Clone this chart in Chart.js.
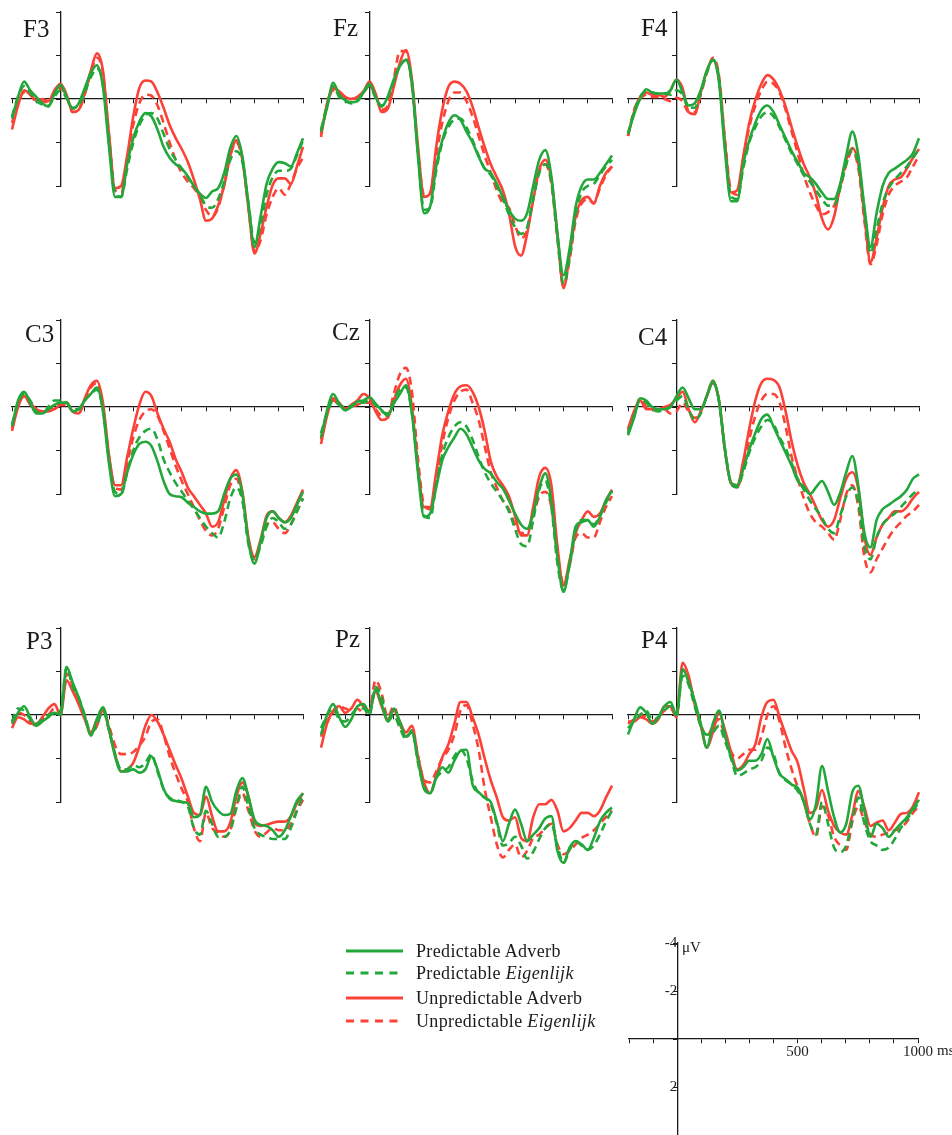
<!DOCTYPE html>
<html>
<head>
<meta charset="utf-8">
<script src="https://cdn.jsdelivr.net/npm/chart.js@4.4.1/dist/chart.umd.min.js"></script>
<style>
  body { margin: 0; width: 952px; height: 1135px; overflow: hidden; background: #fff;
         position: relative; font-family: "Liberation Serif", serif; color: #1a1a1a; }
  canvas { position: absolute; }
  .name { position: absolute; font-size: 25px; line-height: 25px; }
  .leg { position: absolute; font-size: 18px; line-height: 20px; letter-spacing: 0.35px; white-space: nowrap; }
  .leg svg { position: absolute; left: -71px; top: 7px; }
  .unit { position: absolute; font-size: 15px; line-height: 15px; white-space: nowrap; }
</style>
</head>
<body>
<script>
// time points (ms), shared by every panel
const times = [-200, -175, -150, -125, -100, -75, -50,
  -25, 0, 25, 50, 75, 100, 125,
  150, 175, 200, 225, 250, 275, 300,
  325, 350, 375, 400, 425, 450, 475,
  500, 525, 550, 575, 600, 625, 650,
  675, 700, 725, 750, 775, 800, 825,
  850, 875, 900, 925, 950, 975, 1000];

const seriesNames = ["Predictable Adverb", "Predictable Eigenlijk", "Unpredictable Adverb", "Unpredictable Eigenlijk"];

// microvolts, positive plotted downwards
const F3_PA = [0.9, -0.1, -0.8, -0.4, -0.1, 0.2, 0.35, -0.25, -0.65, -0.1, 0.45, 0.2, -0.5, -1.2, -1.55, -0.55, 2.2, 4.5, 4.5, 3.0, 1.8, 1.05, 0.65, 0.8, 1.4, 2.2, 2.7, 3.0, 3.2, 3.55, 4.0, 4.35, 4.55, 4.25, 4.1, 3.4, 2.25, 1.7, 2.65, 4.8, 6.8, 5.4, 3.9, 3.2, 2.9, 2.95, 3.1, 2.5, 1.8];
const F3_PE = [0.8, -0.1, -0.6, -0.3, 0.1, 0.25, 0.3, -0.1, -0.4, -0.05, 0.4, 0.3, -0.3, -1.0, -1.4, -0.7, 1.9, 4.3, 4.5, 3.2, 2.0, 1.2, 0.75, 0.65, 0.9, 1.6, 2.3, 2.8, 3.2, 3.6, 4.0, 4.4, 4.9, 5.0, 4.6, 3.8, 2.8, 2.4, 2.9, 4.8, 6.6, 5.8, 4.4, 3.6, 3.3, 3.3, 3.2, 2.6, 1.9];
const F3_UA = [1.4, 0.3, -0.4, -0.2, 0.05, 0.0, 0.1, -0.4, -0.7, -0.2, 0.6, 0.5, -0.3, -1.3, -2.1, -1.3, 1.6, 4.1, 4.0, 2.6, 0.8, -0.5, -0.85, -0.8, -0.3, 0.4, 1.2, 1.8, 2.3, 2.9, 3.7, 4.6, 5.6, 5.5, 4.9, 4.0, 2.6, 1.9, 2.7, 5.0, 7.1, 6.2, 4.95, 3.95, 3.65, 3.65, 3.9, 3.1, 2.2];
const F3_UE = [1.1, 0.2, -0.3, -0.2, 0.1, 0.1, 0.15, -0.3, -0.5, -0.1, 0.6, 0.5, -0.2, -1.2, -1.9, -1.2, 1.7, 4.2, 4.3, 2.8, 1.2, 0.2, -0.2, -0.15, 0.3, 1.1, 2.0, 2.8, 3.4, 3.8, 4.1, 4.5, 5.1, 5.4, 5.0, 3.9, 2.6, 2.0, 2.8, 5.0, 7.0, 6.5, 5.3, 4.5, 4.1, 4.4, 3.9, 3.2, 2.7];

const Fz_PA = [1.5, 0.4, -0.75, -0.2, 0.05, 0.15, 0.1, -0.3, -0.7, -0.1, 0.35, -0.1, -0.9, -1.5, -1.8, -0.7, 2.65, 5.25, 4.95, 3.1, 1.9, 1.1, 0.75, 0.95, 1.5, 2.0, 2.65, 3.2, 3.4, 3.9, 4.5, 5.1, 5.5, 5.6, 5.25, 4.0, 2.8, 2.35, 3.55, 6.2, 8.1, 6.9, 4.95, 4.0, 3.7, 3.7, 3.4, 3.0, 2.6];
const Fz_PE = [1.4, 0.3, -0.6, -0.1, 0.1, 0.2, 0.05, -0.3, -0.6, -0.05, 0.3, -0.05, -0.8, -1.5, -1.8, -0.8, 2.5, 5.1, 5.0, 3.3, 2.0, 1.3, 0.95, 0.9, 1.3, 1.9, 2.6, 3.2, 3.5, 4.0, 4.6, 5.3, 5.9, 6.2, 5.9, 4.6, 3.4, 3.0, 3.8, 6.4, 8.5, 7.3, 5.3, 4.3, 4.0, 3.9, 3.5, 3.1, 2.8];
const Fz_UA = [1.75, 0.2, -0.5, -0.35, -0.1, 0.0, -0.1, -0.35, -0.8, -0.25, 0.6, 0.45, -0.55, -1.65, -2.25, -0.9, 2.2, 4.5, 4.35, 2.2, 0.5, -0.55, -0.8, -0.7, -0.35, 0.35, 1.3, 2.2, 3.0, 3.6, 4.2, 5.25, 6.75, 7.2, 6.2, 4.65, 3.25, 2.8, 3.7, 6.2, 8.7, 7.2, 5.4, 4.65, 4.5, 4.8, 4.0, 3.4, 3.1];
const Fz_UE = [1.6, 0.3, -0.4, -0.3, -0.05, 0.0, -0.05, -0.3, -0.6, -0.2, 0.5, 0.3, -0.9, -2.2, -2.2, -0.6, 2.4, 4.4, 4.3, 2.6, 1.1, 0.1, -0.3, -0.3, 0.1, 0.8, 1.7, 2.6, 3.4, 4.2, 4.8, 5.0, 5.8, 6.4, 6.0, 4.6, 3.3, 3.0, 3.9, 6.4, 8.6, 7.4, 5.6, 4.8, 4.6, 4.8, 4.1, 3.5, 3.1];

const F4_PA = [1.6, 0.7, 0.0, -0.45, -0.3, -0.25, -0.25, -0.4, -0.9, -0.3, 0.3, 0.2, -0.4, -1.3, -1.8, -0.8, 2.4, 4.7, 4.7, 3.0, 1.9, 1.1, 0.5, 0.3, 0.6, 1.2, 1.8, 2.4, 2.9, 3.4, 3.6, 3.9, 4.3, 4.6, 4.6, 3.9, 2.6, 1.5, 2.6, 5.0, 6.8, 5.25, 4.0, 3.4, 3.2, 3.0, 2.8, 2.5, 1.8];
const F4_PE = [1.6, 0.6, -0.1, -0.35, -0.3, -0.25, -0.25, -0.2, -0.4, -0.2, 0.4, 0.4, -0.3, -1.2, -1.8, -1.0, 2.2, 4.5, 4.6, 3.2, 2.0, 1.3, 0.8, 0.6, 0.8, 1.3, 1.9, 2.5, 3.0, 3.5, 3.8, 4.2, 4.6, 4.9, 4.9, 4.1, 3.0, 2.3, 3.0, 5.1, 7.1, 6.0, 4.8, 4.1, 3.7, 3.4, 3.1, 2.7, 2.3];
const F4_UA = [1.7, 0.6, -0.1, -0.3, -0.2, -0.2, -0.1, -0.4, -0.9, -0.5, 0.6, 0.7, -0.3, -1.3, -1.8, -0.9, 2.0, 4.3, 4.2, 2.65, 1.1, 0.05, -0.7, -1.1, -0.9, -0.4, 0.35, 1.3, 2.2, 3.0, 3.6, 4.4, 5.5, 6.0, 5.4, 4.0, 2.8, 2.25, 3.0, 5.4, 7.5, 6.4, 5.0, 4.0, 3.7, 3.6, 3.2, 2.7, 2.3];
const F4_UE = [1.7, 0.5, 0.0, -0.2, -0.1, -0.1, 0.0, 0.1, -0.05, 0.1, 0.6, 0.6, -0.2, -1.2, -1.9, -1.1, 1.9, 4.2, 4.4, 2.8, 1.3, 0.3, -0.4, -0.8, -0.7, -0.3, 0.5, 1.5, 2.5, 3.5, 4.3, 4.9, 5.3, 5.2, 4.9, 4.1, 3.0, 2.4, 3.2, 5.6, 7.6, 6.7, 5.3, 4.4, 4.0, 3.8, 3.6, 3.1, 2.6];

const C3_PA = [0.9, -0.3, -0.7, -0.2, 0.3, 0.3, 0.1, -0.1, -0.2, -0.2, 0.2, 0.1, -0.3, -0.6, -0.9, 0.2, 2.6, 4.1, 4.0, 3.0, 2.2, 1.7, 1.6, 1.8, 2.5, 3.4, 4.0, 4.1, 4.15, 4.4, 4.6, 4.8, 4.9, 4.9, 4.8, 4.0, 3.3, 3.1, 4.0, 6.2, 7.2, 6.2, 5.1, 4.8, 5.1, 5.3, 5.1, 4.5, 3.9];
const C3_PE = [0.8, -0.2, -0.6, -0.3, 0.2, 0.3, 0.0, -0.3, -0.3, -0.2, 0.1, 0.1, -0.3, -0.6, -0.8, 0.1, 2.4, 3.9, 4.0, 3.0, 2.0, 1.4, 1.1, 1.0, 1.5, 2.4, 3.0, 3.5, 3.9, 4.3, 4.7, 5.1, 5.5, 5.8, 6.0, 5.3, 4.2, 3.7, 4.3, 6.3, 7.0, 6.4, 5.5, 5.1, 5.3, 5.6, 5.4, 4.8, 4.2];
const C3_UA = [1.1, 0.0, -0.5, -0.2, 0.1, 0.2, 0.2, 0.1, -0.1, -0.2, 0.2, 0.3, -0.4, -1.0, -1.2, -0.2, 2.2, 3.6, 3.6, 2.3, 1.0, -0.1, -0.7, -0.5, 0.3, 1.0, 1.6, 2.4, 3.0, 3.7, 4.1, 4.5, 4.9, 5.5, 5.3, 4.3, 3.3, 2.9, 3.9, 6.0, 6.9, 6.1, 5.0, 4.8, 5.1, 5.3, 5.0, 4.4, 3.8];
const C3_UE = [1.0, -0.1, -0.5, -0.1, 0.2, 0.2, 0.1, 0.0, -0.1, -0.1, 0.2, 0.3, -0.3, -0.9, -1.1, 0.0, 2.3, 3.7, 3.8, 2.6, 1.4, 0.6, 0.2, 0.1, 0.4, 1.1, 1.9, 2.7, 3.4, 4.0, 4.6, 5.2, 5.7, 5.9, 5.6, 4.6, 3.6, 3.3, 4.2, 6.1, 7.0, 6.3, 5.4, 5.3, 5.6, 5.8, 5.4, 4.8, 4.2];

const Cz_PA = [1.4, 0.15, -0.6, -0.15, 0.15, 0.0, -0.25, -0.3, -0.45, -0.15, 0.15, 0.4, -0.15, -0.6, -1.0, 0.3, 3.05, 5.05, 4.9, 3.7, 2.45, 1.85, 1.4, 1.0, 1.25, 1.85, 2.45, 2.85, 3.05, 3.45, 3.75, 4.3, 4.9, 5.4, 5.6, 4.9, 3.7, 3.05, 4.3, 6.9, 8.5, 7.2, 5.5, 5.3, 5.2, 5.5, 5.05, 4.3, 3.85];
const Cz_PE = [1.2, 0.3, -0.3, -0.1, 0.0, -0.05, -0.2, -0.2, -0.3, -0.1, 0.2, 0.3, -0.3, -0.8, -0.9, 0.3, 2.9, 5.0, 5.1, 3.6, 2.2, 1.4, 0.9, 0.7, 0.9, 1.5, 2.3, 3.0, 3.5, 3.9, 4.3, 4.8, 5.6, 6.3, 6.4, 5.2, 3.8, 3.4, 4.6, 7.2, 8.4, 7.3, 5.7, 5.2, 5.2, 5.4, 5.0, 4.4, 3.9];
const Cz_UA = [1.7, 0.4, -0.4, -0.2, 0.1, -0.1, -0.3, -0.6, -0.4, 0.2, 0.6, 0.5, -0.3, -1.0, -1.3, 0.0, 2.8, 4.6, 4.6, 3.0, 1.3, 0.2, -0.6, -0.95, -1.0, -0.7, 0.0, 1.1, 2.5, 3.2, 3.6, 4.1, 5.0, 5.9, 5.9, 4.6, 3.2, 2.8, 3.6, 6.4, 8.2, 7.05, 5.8, 5.2, 4.8, 5.05, 4.9, 4.3, 3.8];
const Cz_UE = [1.5, 0.3, -0.3, -0.1, 0.1, 0.0, -0.1, -0.2, -0.2, 0.1, 0.4, 0.4, -0.6, -1.5, -1.8, -0.7, 2.4, 4.5, 4.7, 3.3, 1.7, 0.5, -0.3, -0.7, -0.8, -0.2, 0.6, 1.8, 3.0, 3.7, 4.3, 4.7, 5.4, 5.8, 5.7, 5.0, 4.1, 3.9, 4.6, 6.8, 8.1, 7.3, 6.0, 5.8, 6.0, 6.0, 5.3, 4.6, 4.1];

const C4_PA = [1.3, 0.5, -0.4, -0.3, 0.0, 0.1, 0.1, 0.0, -0.5, -0.9, -0.4, 0.1, 0.1, -0.5, -1.2, -0.3, 2.0, 3.5, 3.6, 2.85, 1.95, 1.2, 0.55, 0.35, 0.9, 1.5, 2.1, 2.7, 3.4, 3.65, 4.0, 3.7, 3.4, 3.9, 4.5, 3.95, 3.0, 2.25, 3.65, 5.8, 6.45, 5.2, 4.7, 4.5, 4.3, 4.1, 3.8, 3.3, 3.1];
const C4_PE = [1.2, 0.4, -0.3, -0.2, 0.1, 0.2, 0.1, 0.0, -0.3, -0.5, 0.1, 0.6, 0.3, -0.5, -1.1, -0.3, 1.9, 3.5, 3.7, 3.0, 2.1, 1.4, 0.9, 0.6, 0.8, 1.4, 1.9, 2.6, 3.3, 3.8, 4.3, 4.7, 5.1, 5.6, 5.8, 5.0, 4.1, 3.7, 4.4, 6.4, 7.0, 6.0, 5.4, 5.1, 4.9, 4.6, 4.3, 4.0, 3.8];
const C4_UA = [1.0, 0.2, -0.3, 0.1, 0.1, 0.1, 0.0, -0.1, -0.4, -0.7, 0.1, 0.7, 0.2, -0.5, -1.2, -0.3, 2.0, 3.5, 3.6, 2.5, 1.0, -0.3, -1.1, -1.3, -1.25, -0.9, 0.2, 1.6, 2.7, 3.5, 4.0, 4.6, 5.2, 5.5, 5.2, 4.2, 3.3, 3.0, 3.8, 6.0, 6.8, 6.0, 5.4, 5.1, 4.8, 4.8, 4.6, 4.2, 3.9];
const C4_UE = [1.1, 0.3, -0.4, 0.0, 0.1, 0.1, 0.1, 0.3, 0.2, -0.2, 0.2, 0.5, 0.2, -0.5, -1.1, -0.3, 2.0, 3.5, 3.7, 2.8, 1.5, 0.4, -0.3, -0.6, -0.6, -0.2, 0.9, 2.3, 3.3, 4.2, 4.9, 5.3, 5.5, 5.8, 6.1, 5.2, 4.0, 3.6, 4.6, 6.9, 7.6, 7.0, 6.5, 6.0, 5.6, 5.3, 5.0, 4.8, 4.5];

const P3_PA = [0.4, -0.1, -0.4, 0.1, 0.5, 0.3, 0.1, -0.1, 0.0, -2.2, -1.5, -0.8, 0.05, 0.95, 0.2, -0.35, 0.65, 1.9, 2.6, 2.6, 2.5, 2.65, 2.5, 1.9, 2.5, 3.4, 3.85, 3.95, 4.0, 4.05, 4.7, 4.6, 3.3, 4.0, 4.4, 4.6, 4.55, 3.5, 2.9, 3.75, 4.8, 5.05, 5.1, 5.3, 5.6, 5.3, 4.65, 3.95, 3.6];
const P3_PE = [0.3, -0.3, -0.2, 0.2, 0.4, 0.2, 0.0, -0.1, -0.2, -2.2, -1.3, -0.8, 0.0, 0.8, 0.5, -0.2, 0.7, 1.8, 2.5, 2.5, 2.3, 2.4, 2.2, 1.8, 2.6, 3.4, 3.8, 3.9, 4.0, 4.2, 5.2, 5.5, 4.4, 5.0, 5.6, 5.6, 5.3, 4.3, 3.3, 4.2, 5.2, 5.5, 5.6, 5.7, 5.7, 5.7, 5.2, 4.4, 3.7];
const P3_UA = [0.6, 0.1, 0.2, 0.4, 0.4, 0.1, -0.3, -0.5, 0.0, -1.6, -1.1, -0.5, 0.2, 0.8, 0.2, -0.3, 0.7, 1.8, 2.6, 2.5, 2.2, 1.45, 0.5, 0.0, 0.3, 0.9, 1.6, 2.3, 2.95, 3.75, 4.5, 4.6, 3.75, 4.65, 5.35, 5.35, 4.95, 3.75, 3.1, 3.75, 4.95, 5.1, 5.05, 4.95, 4.9, 4.9, 4.65, 4.05, 3.6];
const P3_UE = [0.4, -0.1, 0.0, 0.3, 0.5, 0.2, 0.0, -0.3, -0.1, -1.9, -1.4, -0.7, 0.1, 0.9, 0.5, -0.2, 0.5, 1.4, 1.8, 1.8, 1.7, 1.4, 1.0, 0.3, 0.2, 0.9, 1.9, 2.7, 3.4, 4.0, 5.2, 5.8, 4.5, 5.2, 5.4, 5.6, 5.3, 4.2, 3.6, 4.4, 5.3, 5.6, 5.4, 5.2, 5.3, 5.3, 5.0, 4.4, 3.9];

const Pz_PA = [0.9, 0.0, -0.5, 0.1, 0.55, 0.2, -0.4, -0.5, -0.1, -1.2, -0.5, 0.3, -0.3, 0.3, 1.0, 0.8, 2.1, 3.4, 3.6, 2.9, 2.4, 2.65, 2.1, 1.65, 1.6, 3.2, 3.55, 3.8, 4.0, 4.9, 5.8, 5.0, 4.35, 5.0, 5.8, 5.5, 5.2, 4.75, 4.65, 6.25, 6.8, 6.1, 5.8, 5.95, 6.2, 5.65, 4.9, 4.5, 4.25];
const Pz_PE = [0.6, 0.0, -0.3, 0.2, 0.3, 0.0, -0.3, -0.3, 0.0, -1.3, -0.8, 0.3, 0.0, 0.6, 1.1, 0.7, 2.2, 3.3, 3.6, 2.9, 2.6, 2.4, 1.9, 1.6, 2.0, 3.0, 3.6, 3.8, 4.1, 5.0, 6.0, 5.9, 5.6, 6.0, 6.6, 6.3, 5.7, 5.2, 5.0, 6.0, 6.8, 6.2, 5.8, 6.0, 6.2, 6.0, 5.5, 4.9, 4.4];
const Pz_UA = [1.5, 0.4, -0.2, -0.4, -0.1, -0.3, -0.7, -0.4, -0.2, -1.1, -0.4, 0.2, -0.2, 0.3, 0.8, 0.5, 1.9, 3.1, 3.6, 2.8, 1.95, 1.35, 0.4, -0.6, -0.6, 0.1, 0.9, 2.0, 3.0, 3.8, 4.7, 4.85, 4.7, 5.65, 5.8, 4.7, 4.1, 4.1, 3.9, 4.4, 5.35, 5.2, 4.85, 4.5, 4.5, 4.65, 4.4, 3.8, 3.25];
const Pz_UE = [1.0, 0.3, -0.1, -0.4, -0.3, -0.2, -0.3, -0.1, -0.2, -1.6, -1.0, 0.1, -0.4, 0.4, 1.0, 0.7, 1.9, 3.0, 3.1, 2.6, 2.0, 1.6, 0.9, -0.2, -0.45, 0.4, 1.6, 3.4, 4.7, 5.95, 6.55, 6.2, 5.95, 6.55, 6.25, 5.65, 5.5, 5.2, 5.0, 5.95, 6.4, 6.25, 5.95, 5.65, 5.5, 5.3, 5.0, 4.7, 4.4];

const P4_PA = [0.9, 0.2, -0.35, -0.1, 0.4, 0.1, -0.4, -0.6, 0.0, -2.1, -1.5, -0.65, 0.4, 1.5, 0.4, -0.2, 0.9, 1.95, 2.55, 2.4, 2.1, 2.1, 1.8, 1.1, 1.95, 2.7, 2.95, 3.2, 3.35, 3.95, 4.8, 4.1, 2.35, 3.5, 4.7, 5.4, 5.0, 3.55, 3.25, 4.4, 5.6, 5.0, 5.2, 5.6, 5.3, 5.0, 4.7, 4.3, 3.9];
const P4_PE = [0.6, 0.3, 0.0, -0.2, 0.2, 0.1, -0.2, -0.4, 0.0, -1.8, -1.4, -0.4, 0.5, 0.9, 0.8, 0.5, 1.2, 2.0, 2.8, 2.7, 2.5, 2.4, 2.1, 1.5, 1.8, 2.7, 3.0, 3.2, 3.5, 4.0, 5.0, 5.5, 4.0, 5.0, 6.1, 6.3, 6.0, 4.8, 3.8, 5.0, 5.8, 6.0, 6.2, 6.1, 5.7, 5.2, 4.8, 4.4, 4.0];
const P4_UA = [0.3, 0.3, 0.1, 0.2, 0.4, 0.2, -0.4, -0.4, 0.1, -2.4, -1.8, -0.5, 0.5, 1.5, 0.8, -0.1, 0.7, 1.7, 2.5, 2.3, 1.8, 1.35, 0.1, -0.6, -0.7, 0.1, 0.9, 1.65, 2.2, 3.4, 4.5, 4.3, 3.45, 4.4, 5.1, 5.4, 5.5, 4.6, 3.5, 4.25, 5.1, 4.95, 4.85, 5.3, 4.95, 4.55, 4.5, 4.2, 3.55];
const P4_UE = [0.4, 0.2, 0.0, 0.1, 0.3, 0.1, -0.2, -0.3, 0.0, -2.1, -1.6, -0.6, 0.4, 1.0, 0.5, 0.2, 1.0, 1.7, 2.0, 1.8, 1.6, 1.6, 1.0, 0.0, -0.4, 0.3, 1.5, 2.5, 3.3, 4.0, 5.0, 5.6, 4.2, 4.6, 5.6, 6.0, 6.2, 4.9, 4.2, 4.9, 5.5, 5.6, 5.5, 5.4, 5.3, 5.2, 4.9, 4.5, 4.2];

// name, left edge (-200 ms), y of 0 µV, series, label x, label baseline
const panels = [
  ["F3", 12, 99, [F3_PA, F3_PE, F3_UA, F3_UE], 23, 37],
  ["Fz", 320.5, 99, [Fz_PA, Fz_PE, Fz_UA, Fz_UE], 333, 36],
  ["F4", 628, 99, [F4_PA, F4_PE, F4_UA, F4_UE], 641, 36],
  ["C3", 12, 407, [C3_PA, C3_PE, C3_UA, C3_UE], 25, 342],
  ["Cz", 320.5, 407, [Cz_PA, Cz_PE, Cz_UA, Cz_UE], 332, 340],
  ["C4", 628, 407, [C4_PA, C4_PE, C4_UA, C4_UE], 638, 345],
  ["P3", 12, 715, [P3_PA, P3_PE, P3_UA, P3_UE], 26, 649],
  ["Pz", 320.5, 715, [Pz_PA, Pz_PE, Pz_UA, Pz_UE], 335, 647],
  ["P4", 628, 715, [P4_PA, P4_PE, P4_UA, P4_UE], 641, 648]
];

const GREEN = "#22a73a";
const RED = "#fc4137";
const AXIS = "#1a1a1a";
const styles = [
  { color: GREEN, dash: [] },
  { color: GREEN, dash: [8, 5] },
  { color: RED, dash: [] },
  { color: RED, dash: [8, 5] }
];

const PLOT_W = 291, PLOT_H = 174;
const PAD = { left: 10, right: 10, top: 10, bottom: 120 };

function axisOpts(extra) {
  return Object.assign({
    type: "linear",
    grid: { drawOnChartArea: false, drawTicks: true, tickLength: 4, color: AXIS, lineWidth: 1 },
    border: { display: true, color: AXIS, width: 1.3 }
  }, extra);
}

function makeCanvas(left, top, w, h) {
  const c = document.createElement("canvas");
  c.width = w; c.height = h;
  c.style.left = left + "px";
  c.style.top = top + "px";
  document.body.appendChild(c);
  return c;
}

for (const p of panels) {
  const [name, left, zero, series, lx, lb] = p;
  const canvas = makeCanvas(left - PAD.left, zero - PLOT_H / 2 - PAD.top,
    PLOT_W + PAD.left + PAD.right, PLOT_H + PAD.top + PAD.bottom);

  new Chart(canvas, {
    type: "line",
    data: {
      datasets: series.map((vals, i) => ({
        label: seriesNames[i],
        data: times.map((t, j) => ({ x: t, y: vals[j] })),
        borderColor: styles[i].color,
        borderDash: styles[i].dash,
        borderWidth: 2.6,
        pointRadius: 0,
        cubicInterpolationMode: "monotone",
        fill: false,
        clip: false
      }))
    },
    options: {
      responsive: false,
      animation: false,
      events: [],
      layout: { padding: PAD },
      plugins: { legend: { display: false }, tooltip: { enabled: false } },
      scales: {
        x: axisOpts({ min: -200, max: 1000, position: { y: 0 }, ticks: { display: false, stepSize: 100 } }),
        y: axisOpts({ min: -4, max: 4, reverse: true, position: { x: 0 }, ticks: { display: false, stepSize: 2 } })
      }
    }
  });

  const lbl = document.createElement("div");
  lbl.className = "name";
  lbl.textContent = name;
  lbl.style.left = lx + "px";
  lbl.style.top = (lb - 21) + "px";
  document.body.appendChild(lbl);
}

// calibration axes
const scaleYTicks = [-4, -2, 2];
const scaleXTicks = [500, 1000];
const SC = { left: 629, top: 943, w: 289, h: 193 };
const scalePad = { left: 40, right: 45, top: 15, bottom: 10 };
const scaleCanvas = makeCanvas(SC.left - scalePad.left, SC.top - scalePad.top,
  SC.w + scalePad.left + scalePad.right, SC.h + scalePad.top + scalePad.bottom);
const tickFont = { family: "Liberation Serif", size: 15 };

new Chart(scaleCanvas, {
  type: "line",
  data: { datasets: [] },
  options: {
    responsive: false,
    animation: false,
    events: [],
    layout: { padding: scalePad },
    plugins: { legend: { display: false }, tooltip: { enabled: false } },
    scales: {
      x: axisOpts({
        min: -200, max: 1000, position: { y: 0 },
        ticks: { stepSize: 100, autoSkip: false, maxRotation: 0, padding: 0, color: "#222", font: tickFont,
                 callback: v => scaleXTicks.includes(v) ? String(v) : "" }
      }),
      y: axisOpts({
        min: -4, max: 4, reverse: true, position: { x: 0 },
        ticks: { stepSize: 2, autoSkip: false, padding: 2, color: "#222", font: tickFont,
                 callback: v => scaleYTicks.includes(v) ? String(v) : "" }
      })
    }
  }
});
</script>

<div class="unit" style="left:682px; top:940px;">μV</div>
<div class="unit" style="left:937px; top:1043px;">ms</div>

<div class="leg" style="left:416px; top:941px;"><svg width="60" height="6"><line x1="1" y1="3" x2="58" y2="3" stroke="#22a73a" stroke-width="3"/></svg>Predictable Adverb</div>
<div class="leg" style="left:416px; top:963px;"><svg width="60" height="6"><line x1="1" y1="3" x2="58" y2="3" stroke="#22a73a" stroke-width="3" stroke-dasharray="8 6.5"/></svg>Predictable <i>Eigenlijk</i></div>
<div class="leg" style="left:416px; top:988px;"><svg width="60" height="6"><line x1="1" y1="3" x2="58" y2="3" stroke="#fc4137" stroke-width="3"/></svg>Unpredictable Adverb</div>
<div class="leg" style="left:416px; top:1011px;"><svg width="60" height="6"><line x1="1" y1="3" x2="58" y2="3" stroke="#fc4137" stroke-width="3" stroke-dasharray="8 6.5"/></svg>Unpredictable <i>Eigenlijk</i></div>
</body>
</html>
